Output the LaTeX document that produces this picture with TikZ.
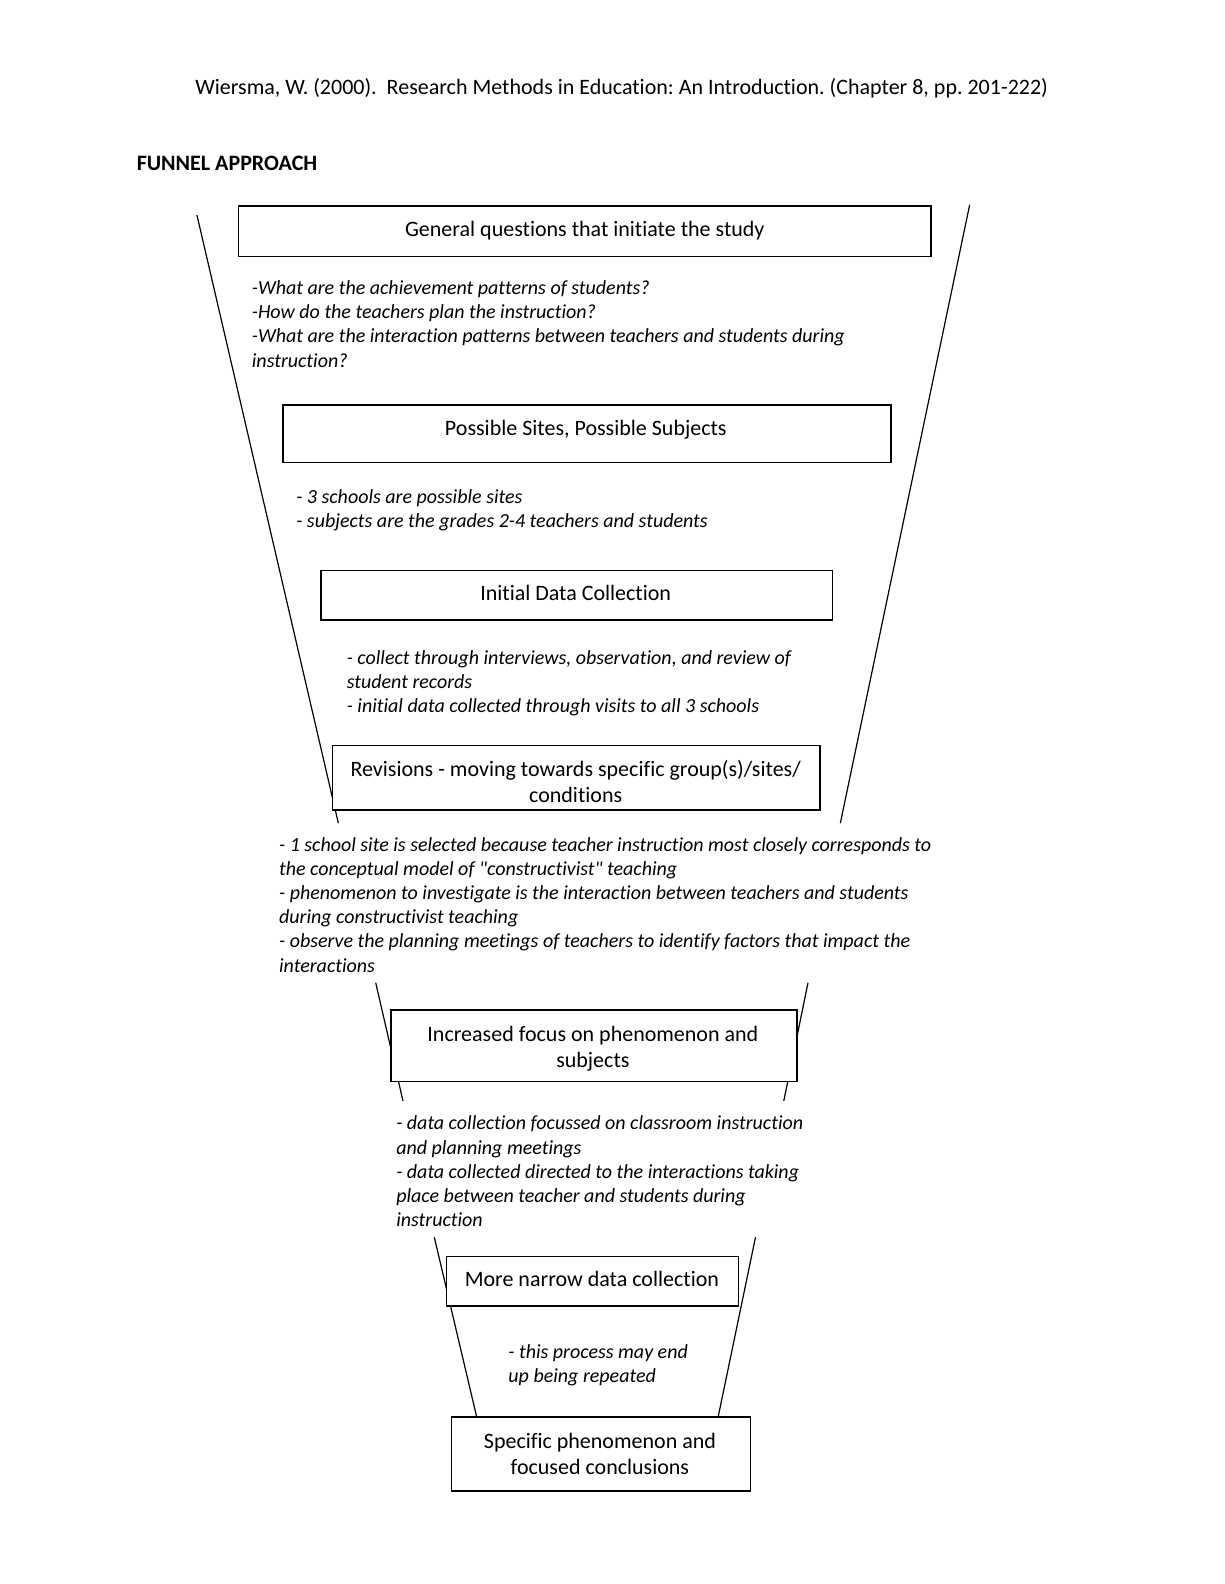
\documentclass[tikz,border=0pt]{standalone}
\usepackage{fontspec}
\setmainfont{Carlito}[Ligatures={TeXOff,CommonOff}]
\frenchspacing

\begin{document}
\begin{tikzpicture}[x=0.505pt,y=0.505pt,yscale=-1,xscale=1,
	stagebox/.style={draw, line width=0.75pt, fill=white},
	funnel/.style={line width=0.6pt},
	boxtext/.style={align=center, inner sep=0pt, font=\fontsize{11}{13}\selectfont},
	notes/.style={anchor=north west, align=left, inner sep=0pt, font=\fontsize{10}{12.1}\selectfont\itshape}]
		\useasboundingbox (0,0) rectangle (1212,1568.3);
		
		%Straight Lines: funnel, first part
		\coordinate (fA1) at (195,213);
		\coordinate (fA2) at (335,815);
		\coordinate (fB1) at (960,203);
		\coordinate (fB2) at (832,815);
		\draw [funnel] (fA1) -- (fA2) ;
		\draw [funnel] (fB1) -- (fB2) ;
		%Straight Lines: funnel, second part
		\coordinate (gA1) at (372,973);
		\coordinate (gA2) at (399,1090);
		\coordinate (gB1) at (800,973);
		\coordinate (gB2) at (776,1090);
		\draw [funnel] (gA1) -- (gA2) ;
		\draw [funnel] (gB1) -- (gB2) ;
		%Straight Lines: funnel, third part
		\coordinate (hA1) at (430,1225);
		\coordinate (hA2) at (472,1403);
		\coordinate (hB1) at (748,1225);
		\coordinate (hB2) at (711,1403);
		\draw [funnel] (hA1) -- (hA2) ;
		\draw [funnel] (hB1) -- (hB2) ;
		
		%Shape: Rectangle [general]
		\draw [stagebox] (236,204) rectangle (922,254) ;
		%Shape: Rectangle [sites]
		\draw [stagebox] (280,401) rectangle (882,458) ;
		%Shape: Rectangle [initial]
		\draw [stagebox] (318,565) rectangle (824,614) ;
		%Shape: Rectangle [revisions]
		\draw [stagebox] (329,738) rectangle (812,802) ;
		%Shape: Rectangle [focus]
		\draw [stagebox] (387,1000) rectangle (789,1071) ;
		%Shape: Rectangle [narrow]
		\draw [stagebox] (442,1244) rectangle (731,1293) ;
		%Shape: Rectangle [specific]
		\draw [stagebox] (447,1403) rectangle (743,1476) ;
		
		% Text Node
		\node [anchor=west, inner sep=0pt, font=\fontsize{11}{13}\selectfont] (source) at (193,87) {Wiersma, W. (2000).\ \ Research Methods in Education: An Introduction. (Chapter 8, pp. 201-222)};
		% Text Node
		\node [anchor=west, inner sep=0pt, font=\fontsize{11}{13}\selectfont\bfseries] (heading) at (135,162) {FUNNEL APPROACH};
		
		% Text Node
		\node [boxtext] (general) at (579,228) {General questions that initiate the study};
		% Text Node
		\node [boxtext] (sites) at (580,425) {Possible Sites, Possible Subjects};
		% Text Node
		\node [boxtext] (initial) at (570,587) {Initial Data Collection};
		% Text Node
		\node [boxtext] (revisions) at (570,774) {Revisions - moving towards specific group(s)/sites/\\conditions};
		% Text Node
		\node [boxtext] (focus) at (587,1038) {Increased focus on phenomenon and\\subjects};
		% Text Node
		\node [boxtext] (narrow) at (586,1266) {More narrow data collection};
		% Text Node
		\node [boxtext] (specific) at (594,1440) {Specific phenomenon and\\focused conclusions};
		
		% Text Node
		\node [notes] (questions) at (249,277.5) {-What are the achievement patterns of students?\\-How do the teachers plan the instruction?\\-What are the interaction patterns between teachers and students during\\instruction?};
		% Text Node
		\node [notes] (schools) at (293,484.5) {- 3 schools are possible sites\\- subjects are the grades 2-4 teachers and students};
		% Text Node
		\node [notes] (collect) at (343,643.5) {- collect through interviews, observation, and review of\\student records\\- initial data collected through visits to all 3 schools};
		% Text Node
		\node [notes] (selected) at (276,828.5) {- 1 school site is selected because teacher instruction most closely corresponds to\\the conceptual model of "constructivist" teaching\\- phenomenon to investigate is the interaction between teachers and students\\during constructivist teaching\\- observe the planning meetings of teachers to identify factors that impact the\\interactions};
		% Text Node
		\node [notes] (directed) at (392,1104.5) {- data collection focussed on classroom instruction\\and planning meetings\\- data collected directed to the interactions taking\\place between teacher and students during\\instruction};
		% Text Node
		\node [notes] (repeat) at (503,1330.5) {- this process may end\\up being repeated};
		
\end{tikzpicture}
\end{document}
